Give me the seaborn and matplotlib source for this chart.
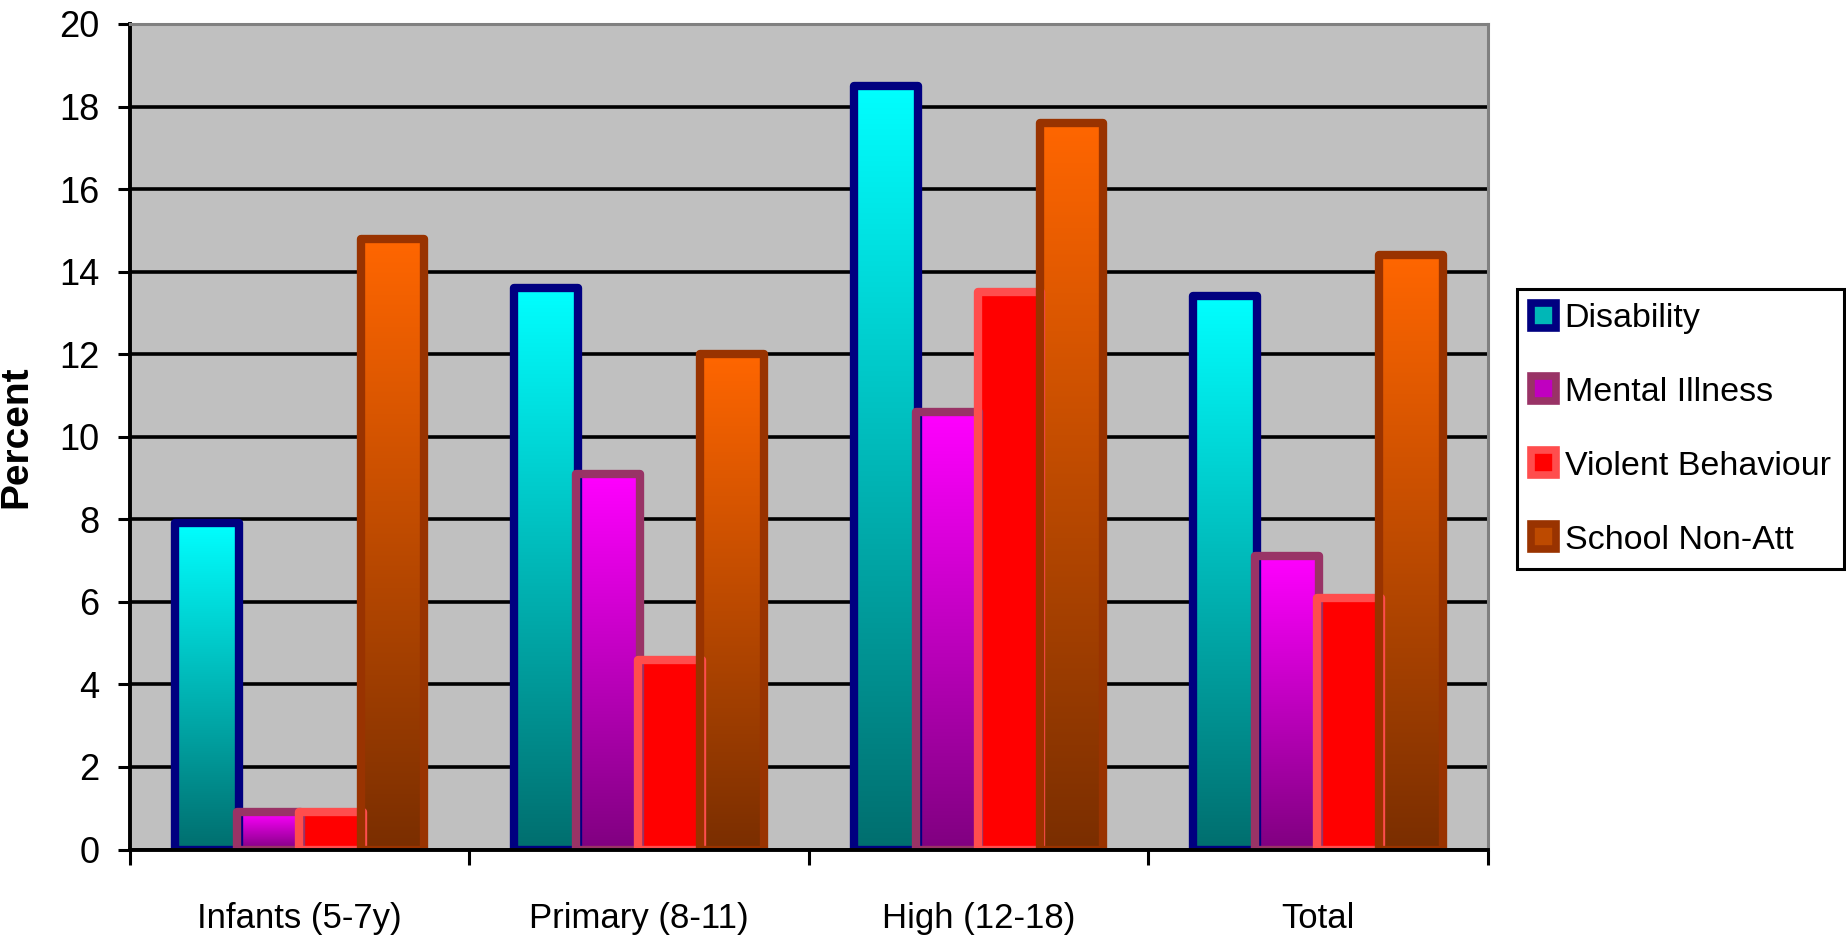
import numpy as np
import pandas as pd
import matplotlib.pyplot as plt
import seaborn as sns
from matplotlib.colors import to_rgb
from matplotlib.patches import Patch

sns.set_style("white", {"axes.facecolor": "#C0C0C0"})
plt.rcParams['font.family'] = ['Liberation Sans', 'DejaVu Sans']
plt.rcParams.update({'text.color': 'black', 'axes.labelcolor': 'black',
                     'xtick.color': 'black', 'ytick.color': 'black'})

# Values (percent)
categories = ['Infants (5-7y)', 'Primary (8-11)', 'High (12-18)', 'Total']
series = ['Disability', 'Mental Illness', 'Violent Behaviour', 'School Non-Att']
disability = [7.9, 13.6, 18.5, 13.4]
mental_illness = [0.9, 9.1, 10.6, 7.1]
violent_behaviour = [0.9, 4.6, 13.5, 6.1]
school_non_att = [14.8, 12.0, 17.6, 14.4]
yticks = [0, 2, 4, 6, 8, 10, 12, 14, 16, 18, 20]

# colours: (top of gradient, bottom of gradient, border)
styles = {
    'Disability': ('#00FFFF', '#006E6E', '#000080'),
    'Mental Illness': ('#FF00FF', '#800080', '#993366'),
    'Violent Behaviour': ('#FF0000', '#FF0000', '#FF4D4D'),
    'School Non-Att': ('#FF6600', '#7A2E00', '#993300'),
}

df = pd.DataFrame({
    'group': categories * 4,
    'series': np.repeat(series, len(categories)),
    'value': disability + mental_illness + violent_behaviour + school_non_att,
})

fig = plt.figure(figsize=(18.46, 9.41), dpi=100)
ax = fig.add_axes([0.0704, 0.0972, 0.7355, 0.8773])

sns.barplot(data=df, x='group', y='value', hue='series', hue_order=series,
            palette=[styles[s][0] for s in series], width=0.73, legend=False, ax=ax)

# replace flat fills by vertical gradients, keep thick rounded borders
for s, container in zip(series, ax.containers):
    top, bottom, edge = styles[s]
    grad = np.linspace(to_rgb(top), to_rgb(bottom), 256).reshape(256, 1, 3)
    for bar in container:
        x0, w, h = bar.get_x(), bar.get_width(), bar.get_height()
        bar.set_width(w * 1.03)
        bar.set_x(x0 - w * 0.015)
        img = ax.imshow(grad, extent=[x0, x0 + w, 0, h], origin='upper',
                        aspect='auto', zorder=1.5, interpolation='bilinear')
        img.set_clip_path(bar)
        bar.set_facecolor('none')
        bar.set_edgecolor(edge)
        bar.set_linewidth(6)
        bar.set_joinstyle('round')
        bar.set_zorder(2)

ax.set_xlim(-0.5, 3.5)
ax.set_ylim(0, 20)
ax.set_yticks(yticks)
ax.set_axisbelow(True)
ax.yaxis.grid(True, color='black', linewidth=2.6)

ax.set_xlabel('')
ax.set_ylabel('Percent', fontsize=28, fontweight='bold')
ax.yaxis.set_label_coords(-0.0707, 0.5)

ax.tick_params(axis='y', labelsize=26, length=9, width=2.2, pad=13, left=True, direction='out')
ax.tick_params(axis='x', which='major', labelsize=25, length=0, pad=38)
ax.set_xticks(np.arange(-0.5, 4, 1), minor=True)
ax.tick_params(axis='x', which='minor', length=11, width=2.2, bottom=True, direction='out')

for side in ['left', 'bottom']:
    ax.spines[side].set_color('black')
    ax.spines[side].set_linewidth(2.8)
for side in ['top', 'right']:
    ax.spines[side].set_visible(True)
    ax.spines[side].set_color('#808080')
    ax.spines[side].set_linewidth(2.2)

handles = [Patch(facecolor=styles[s][0] if s == 'Violent Behaviour' else
                 np.mean([to_rgb(styles[s][0]), to_rgb(styles[s][1])], axis=0),
                 edgecolor=styles[s][2], linewidth=5.5, joinstyle='round', label=s)
           for s in series]
leg = fig.legend(handles=handles, loc='upper left', bbox_to_anchor=(0.8218, 0.6929),
                 fontsize=24.5, frameon=True, fancybox=False, edgecolor='black',
                 facecolor='white', framealpha=1,
                 borderpad=0.4, labelspacing=1.25, handlelength=0.75, handleheight=0.75,
                 handletextpad=0.25, borderaxespad=0)
leg.get_frame().set_linewidth(2.2)

plt.savefig('out.png', dpi=100)
